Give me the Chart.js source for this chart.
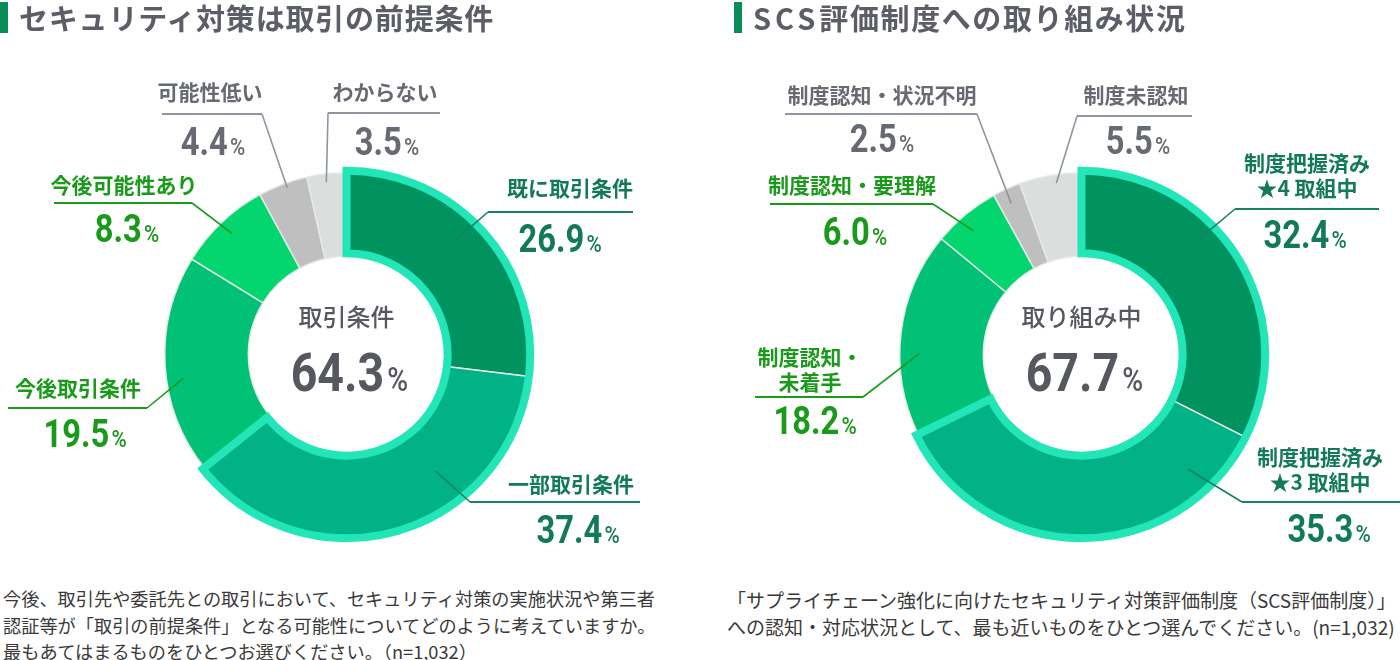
<!DOCTYPE html>
<html><head><meta charset="utf-8">
<script src="https://cdn.jsdelivr.net/npm/chart.js@4.4.1/dist/chart.umd.min.js"></script>
<style>
html,body{margin:0;padding:0;background:#fff;}
body{width:1400px;height:660px;position:relative;overflow:hidden;font-family:'Noto Sans CJK JP',sans-serif;}
.title{position:absolute;top:0;height:36px;font-size:29px;font-weight:bold;color:#5b5e66;line-height:34px;white-space:nowrap;z-index:2;letter-spacing:0.8px;}
.title .bar{position:absolute;left:0;top:2px;width:8px;height:31px;background:#0a8c5a;}
.title span{position:absolute;left:19px;top:0;}
.title .lat{position:static;letter-spacing:4px;}
.note{position:absolute;font-size:18.2px;line-height:26.5px;color:#3a3a3a;white-space:nowrap;z-index:2;}
.wrap{position:absolute;top:0;width:700px;height:580px;}
</style></head>
<body>
<div class="title" style="left:0"><div class="bar"></div><span>セキュリティ対策は取引の前提条件</span></div>
<div class="title" style="left:734px;letter-spacing:1.6px"><div class="bar"></div><span><span class="lat">SCS</span>評価制度への取り組み状況</span></div>
<div class="wrap" style="left:0"><canvas id="c1" width="700" height="580"></canvas></div>
<div class="wrap" style="left:700px"><canvas id="c2" width="700" height="580"></canvas></div>
<div class="note" style="left:3px;top:585px">今後、取引先や委託先との取引において、セキュリティ対策の実施状況や第三者<br>認証等が「取引の前提条件」となる可能性についてどのように考えていますか。<br>最もあてはまるものをひとつお選びください。（n=1,032）</div>
<div class="note" style="left:727px;top:587px;font-size:19px">「サプライチェーン強化に向けたセキュリティ対策評価制度（SCS評価制度）」<br>への認知・対応状況として、最も近いものをひとつ選んでください。(n=1,032)</div>
<script>
// ---- data ----
const categories1 = [['既に取引条件'], ['一部取引条件'], ['今後取引条件'], ['今後可能性あり'], ['可能性低い'], ['わからない']];
const values1 = [26.9, 37.4, 19.5, 8.3, 4.4, 3.5];
const centerLabel1 = '取引条件';
const centerValue1 = 64.3;

const categories2 = [['制度把握済み', '★4 取組中'], ['制度把握済み', '★3 取組中'], ['制度認知・', '未着手'], ['制度認知・要理解'], ['制度認知・状況不明'], ['制度未認知']];
const values2 = [32.4, 35.3, 18.2, 6.0, 2.5, 5.5];
const centerLabel2 = '取り組み中';
const centerValue2 = 67.7;

const highlighted = [0, 1];

// ---- styles ----
const sliceColors = ['#00935f', '#00b285', '#00c176', '#03d66f', '#bfbfbf', '#dcdddd'];
const tones = ['teal', 'teal', 'green', 'green', 'gray', 'gray'];
const toneText = {teal: '#127a59', green: '#1a9a1a', gray: '#676a72'};
const toneLine = {teal: '#17805f', green: '#1a9a1a', gray: '#8e96a0'};
const cyan = '#22e6b8';

// ---- label layout (page px) ----
const layout1 = [
  {lineY: 212, x0: 488, x1: 633, elbow: 'left', nameX: 570, nameY: 188, valX: 560, valY: 238, at: [0.45, 0.68]},
  {lineY: 502, x0: 470, x1: 640, elbow: 'left', nameX: 571, nameY: 484, valX: 578, valY: 529, at: [0.34, 0.58]},
  {lineY: 408, x0: 8, x1: 147, elbow: 'right', nameX: 78, nameY: 388, valX: 85, valY: 433, at: [0.43, 0.8]},
  {lineY: 203, x0: 54, x1: 192, elbow: 'right', nameX: 124, nameY: 185, valX: 127, valY: 228, at: [0.5, 0.82]},
  {lineY: 114, x0: 162, x1: 262, elbow: 'right', nameX: 210, nameY: 92, valX: 213, valY: 141, at: [0.56, 0.94]},
  {lineY: 113, x0: 328, x1: 440, elbow: 'left', nameX: 385, nameY: 92, valX: 387, valY: 141, at: [0.47, 0.9]}
];
const layout2 = [
  {lineY: 209, x0: 1235, x1: 1379, elbow: 'left', nameX: 1307, nameY: 163, valX: 1305, valY: 234, at: [0.39, 0.8]},
  {lineY: 502, x0: 1242, x1: 1400, elbow: 'left', nameX: 1320, nameY: 457, valX: 1329, valY: 528, at: [0.16, 0.7]},
  {lineY: 397, x0: 755, x1: 863, elbow: 'right', nameX: 810, nameY: 357, valX: 815, valY: 420, at: [0.4, 0.77]},
  {lineY: 204, x0: 770, x1: 933, elbow: 'right', nameX: 852, nameY: 185, valX: 855, valY: 231, at: [0.43, 0.79]},
  {lineY: 114, x0: 785, x1: 977, elbow: 'right', nameX: 882, nameY: 95, valX: 882, valY: 138, at: [0.43, 0.82]},
  {lineY: 116, x0: 1077, x1: 1192, elbow: 'left', nameX: 1136, nameY: 95, valX: 1138, valY: 140, at: [0.58, 0.9]}
];

const NUMFONT = 'Roboto, "Liberation Sans", sans-serif';
const JPFONT = '"Noto Sans CJK JP", sans-serif';
const SX = 0.86;

function drawNumber(ctx, str, cx, cy, size, pctSize, color, pctWeight) {
  ctx.save();
  ctx.fillStyle = color;
  ctx.textAlign = 'left';
  ctx.textBaseline = 'alphabetic';
  ctx.font = `bold ${size}px ${NUMFONT}`;
  const w1 = ctx.measureText(str).width * SX;
  ctx.font = `${pctWeight} ${pctSize}px ${NUMFONT}`;
  const w2 = ctx.measureText('%').width * SX;
  const gap = size * 0.06;
  const start = cx - (w1 + gap + w2) / 2;
  const base = cy + size * 0.711 / 2;
  ctx.translate(start, base);
  ctx.scale(SX, 1);
  ctx.font = `bold ${size}px ${NUMFONT}`;
  ctx.fillText(str, 0, 0);
  ctx.font = `${pctWeight} ${pctSize}px ${NUMFONT}`;
  ctx.fillText('%', (w1 + gap) / SX, 0);
  ctx.restore();
}

function makePlugin(cfg) {
  return {
    id: 'donutLabels',
    afterDatasetsDraw(chart) {
      const ctx = chart.ctx;
      const meta = chart.getDatasetMeta(0);
      const off = cfg.offsetX;
      // highlighted group outline
      const a0 = meta.data[highlighted[0]];
      const a1 = meta.data[highlighted[highlighted.length - 1]];
      const p0 = a0.getProps(['x', 'y', 'startAngle', 'innerRadius', 'outerRadius'], true);
      const p1 = a1.getProps(['endAngle'], true);
      ctx.save();
      ctx.beginPath();
      ctx.arc(p0.x, p0.y, p0.outerRadius + 2, p0.startAngle, p1.endAngle);
      ctx.arc(p0.x, p0.y, p0.innerRadius + 3, p1.endAngle, p0.startAngle, true);
      ctx.closePath();
      ctx.lineWidth = 8;
      ctx.lineJoin = 'miter';
      ctx.strokeStyle = cyan;
      ctx.stroke();
      ctx.restore();

      // callout labels
      cfg.layout.forEach((L, i) => {
        const el = meta.data[i];
        const p = el.getProps(['x', 'y', 'startAngle', 'endAngle', 'innerRadius', 'outerRadius'], true);
        const ang = p.startAngle + (p.endAngle - p.startAngle) * L.at[0];
        const r = p.innerRadius + (p.outerRadius - p.innerRadius) * L.at[1];
        const px = p.x + Math.cos(ang) * r, py = p.y + Math.sin(ang) * r;
        const tone = tones[i];
        const ex = (L.elbow === 'left' ? L.x0 : L.x1) - off;
        const fx = (L.elbow === 'left' ? L.x1 : L.x0) - off;
        ctx.save();
        ctx.strokeStyle = toneLine[tone];
        ctx.lineWidth = 1.6;
        ctx.beginPath();
        ctx.moveTo(px, py);
        ctx.lineTo(ex, L.lineY);
        ctx.stroke();
        ctx.lineWidth = 2;
        ctx.beginPath();
        ctx.moveTo(ex, L.lineY);
        ctx.lineTo(fx, L.lineY);
        ctx.stroke();
        // name
        ctx.fillStyle = toneText[tone];
        ctx.font = `bold 21px ${JPFONT}`;
        ctx.textAlign = 'center';
        ctx.textBaseline = 'middle';
        const lines = cfg.categories[i];
        lines.forEach((t, k) => ctx.fillText(t, L.nameX - off, L.nameY + k * 25));
        ctx.restore();
        drawNumber(ctx, cfg.values[i].toFixed(1), L.valX - off, L.valY, 38, 24, toneText[tone], '500');
      });

      // center text
      const c = meta.data[0].getProps(['x', 'y'], true);
      ctx.save();
      ctx.fillStyle = '#55585f';
      ctx.font = `500 24px ${JPFONT}`;
      ctx.textAlign = 'center';
      ctx.textBaseline = 'middle';
      ctx.fillText(cfg.centerLabel, c.x, c.y - 38);
      ctx.restore();
      drawNumber(ctx, cfg.centerValue.toFixed(1), c.x + 3, c.y + 17, 54, 33, '#55585f', '500');
    }
  };
}

function makeChart(id, categories, values, layout, centerLabel, centerValue, offsetX, padding) {
  return new Chart(document.getElementById(id), {
    type: 'doughnut',
    data: {
      labels: categories.map(c => c.join('')),
      datasets: [{
        data: values,
        backgroundColor: sliceColors,
        borderColor: '#e3ebe7',
        borderWidth: 1.5
      }]
    },
    options: {
      responsive: false,
      animation: false,
      events: [],
      cutout: '54%',
      layout: {padding: padding},
      plugins: {legend: {display: false}, tooltip: {enabled: false}}
    },
    plugins: [makePlugin({categories, values, layout, centerLabel, centerValue, offsetX})]
  });
}

makeChart('c1', categories1, values1, layout1, centerLabel1, centerValue1, 0, {left: 164, right: 171, top: 172, bottom: 43});
makeChart('c2', categories2, values2, layout2, centerLabel2, centerValue2, 700, {left: 199, right: 136, top: 172, bottom: 43});
</script>
</body></html>
